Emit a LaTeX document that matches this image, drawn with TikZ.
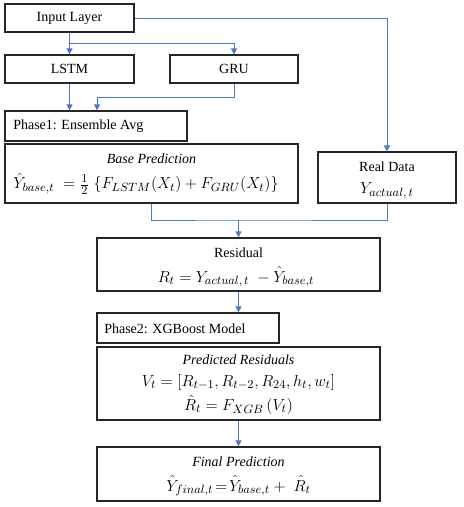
\documentclass[tikz,border=0pt]{standalone}
\usepackage{fontspec}
\setmainfont{Liberation Serif}
\newfontfamily\tms{Liberation Serif}
\usetikzlibrary{arrows.meta,calc}
\definecolor{lnblue}{HTML}{4F78C0}
\begin{document}
\begin{tikzpicture}[x=0.75pt,y=-0.75pt,
  box/.style={draw=black!85,line width=0.9pt,inner sep=0pt,align=center,font=\tms\fontsize{10.5}{12}\selectfont},
  txt/.style={inner sep=0pt,font=\tms\fontsize{10.5}{12}\selectfont},
  itxt/.style={inner sep=0pt,font=\tms\fontsize{10.5}{12}\selectfont\itshape},
  arr/.style={draw=lnblue,line width=0.65pt,-{Triangle[length=4.5pt,width=4.5pt]}},
  ln/.style={draw=lnblue,line width=0.65pt},
  mth/.style={inner sep=0pt,font=\fontsize{13}{15}\selectfont}]
\useasboundingbox (0,0) rectangle (464,507);
\node[box,minimum width=129*0.75pt,minimum height=28*0.75pt] (input) at (69.5,18) {Input Layer};
\node[box,minimum width=129*0.75pt,minimum height=28*0.75pt] (lstm) at (69.5,69) {LSTM};
\node[box,minimum width=128*0.75pt,minimum height=28*0.75pt] (gru) at (234,69) {GRU};
\node[box,minimum width=182*0.75pt,minimum height=30*0.75pt] (ph1) at (96,126) {};
\node[txt,anchor=west] (ph1t) at (13,126) {Phase1: Ensemble Avg};
\node[box,minimum width=293*0.75pt,minimum height=59*0.75pt] (base) at (151.5,173.5) {};
\node[itxt] (baset) at (151.5,159) {Base Prediction};
\node[mth] (basef) at (146,184) {$\hat{Y}_{base,t}\ = \frac{1}{2}\ \{F_{LSTM}(X_t)+F_{GRU}(X_t)\}$};
\node[box,minimum width=138*0.75pt,minimum height=51*0.75pt] (real) at (387,177.5) {};
\node[txt] (realt) at (387,167) {Real Data};
\node[mth] (realf) at (387,191) {$Y_{actual,\,t}$};
\node[box,minimum width=283*0.75pt,minimum height=53*0.75pt] (res) at (238.5,264.5) {};
\node[txt] (rest) at (238.5,253) {Residual};
\node[mth] (resf) at (236,277) {$R_t = Y_{actual,\,t}\ -\hat{Y}_{base,t}$};
\node[box,minimum width=182*0.75pt,minimum height=30*0.75pt] (ph2) at (188,328) {};
\node[txt,anchor=west] (ph2t) at (104,329) {Phase2: XGBoost Model};
\node[box,minimum width=283*0.75pt,minimum height=73*0.75pt] (pred) at (238.5,383.5) {};
\node[itxt] (predt) at (238.5,360) {Predicted Residuals};
\node[mth] (predf1) at (238.5,382) {$V_t = [R_{t-1},R_{t-2},R_{24},h_t,w_t]$};
\node[mth] (predf2) at (238.5,405) {$\hat{R}_t = F_{XGB}\,(V_t)$};
\node[box,minimum width=283*0.75pt,minimum height=54*0.75pt] (fin) at (238.5,474) {};
\node[itxt] (fint) at (238.5,462) {Final Prediction};
\node[mth] (finf) at (238.5,486) {$\hat{Y}_{final,t}\!=\!\hat{Y}_{base,t}+\ \hat{R}_t$};
% connectors
\coordinate (br) at (70,43);
\coordinate (g1) at (97,97);
\coordinate (m) at (238.5,220);
\draw[arr] (input.south) -- (lstm.north);
\draw[arr] (br) -| (gru.north);
\draw[arr] (input.east) -| (real.north);
\draw[arr] (lstm.south) -- (lstm.south |- ph1.north);
\draw[arr] (gru.south) |- (g1) -- (g1 |- ph1.north);
\draw[ln] (base.south) |- (m) -| (real.south);
\draw[arr] (m) -- (res.north);
\draw[arr] (res.south) -- (res.south |- ph2.north);
\draw[arr] (pred.south) -- (fin.north);
\end{tikzpicture}
\end{document}
